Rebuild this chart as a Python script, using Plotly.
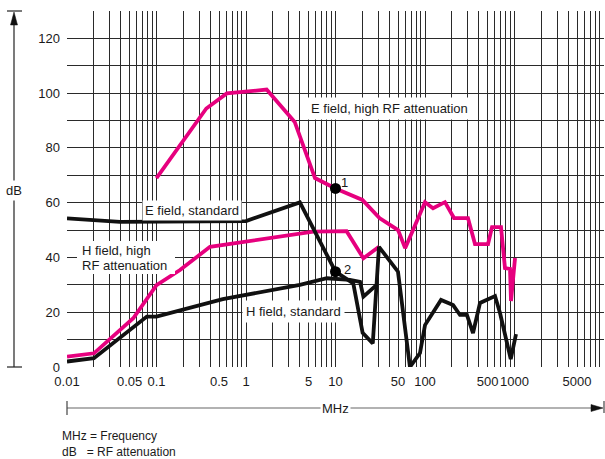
import plotly.graph_objects as go

# ---- data (frequency in MHz, attenuation in dB) ----
e_high_f = [0.1, 0.36, 0.61, 1.7, 3.5, 5.9, 10, 20, 31, 50, 60, 82, 100, 123, 167, 211, 302, 362, 506, 561, 707, 783, 891, 914, 1014]
e_high_db = [69, 94.4, 99.9, 101.3, 89.5, 69, 65.2, 61, 54.4, 50, 43.4, 53.6, 60.2, 58, 60.2, 54.4, 54.4, 44.9, 44.9, 51.1, 51.1, 36.1, 35.8, 24.1, 39.8]

e_std_f = [0.01, 0.039, 1.0, 4.0, 10, 15.8, 20.1, 26.1, 30.6, 49.9, 67.9, 87.9, 100, 151, 206, 246, 294, 344, 412, 606, 689, 908, 1040]
e_std_db = [54.3, 53.0, 53.3, 60.1, 34.8, 30.5, 12.5, 8.6, 43.9, 34.8, 0, 5.1, 15.3, 24.5, 22.6, 19.0, 19.0, 12.4, 23.4, 25.9, 19.7, 2.9, 12.0]

h_high_f = [0.01, 0.02, 0.055, 0.1, 0.183, 0.396, 5.65, 13.3, 20.5, 30.6]
h_high_db = [3.8, 5.0, 17.8, 29.9, 35.4, 43.9, 49.4, 49.6, 39.7, 43.9]

h_std_f = [0.01, 0.02, 0.078, 0.1, 0.55, 4.0, 8.0, 14.5, 18.8, 20.5, 28.8]
h_std_db = [2.0, 3.2, 18.4, 18.4, 24.8, 30, 32.4, 31.8, 31.1, 25.7, 30]

# reference points at 10 MHz
ref_f = [10, 10]
ref_db = [65.2, 34.8]
ref_labels = ["1", "2"]

x_labels = {0.01: "0.01", 0.05: "0.05", 0.1: "0.1", 0.5: "0.5", 1: "1", 5: "5",
            10: "10", 50: "50", 100: "100", 500: "500", 1000: "1000", 5000: "5000"}
y_labels = {0: "0", 20: "20", 40: "40", 60: "60", 80: "80", 100: "100", 120: "120"}

MAGENTA = "#E6007E"
INK = "#111111"
FONT = "Liberation Sans, Arial, sans-serif"

W, H = 605, 459
ML, MR, MT, MB = 67, 1, 11, 92
PW, PH = W - ML - MR, H - MT - MB


def px(x):
    return (x - ML) / PW


def py(y):
    return (H - MB - y) / PH


# grid positions: 1..9 x each decade from 0.01 to 10000
grid_x = []
for k in range(-2, 4):
    for m in range(1, 10):
        grid_x.append(round(m * 10 ** k, 6))
grid_x.append(10000)
x_text = [x_labels.get(v, "") for v in grid_x]

grid_y = list(range(0, 131, 10))
y_text = [y_labels.get(v, "") for v in grid_y]

fig = go.Figure()

for f, d, c in [(h_high_f, h_high_db, MAGENTA), (e_high_f, e_high_db, MAGENTA),
                (e_std_f, e_std_db, INK), (h_std_f, h_std_db, INK)]:
    fig.add_trace(go.Scatter(x=f, y=d, mode="lines",
                             line=dict(color=c, width=3.8), showlegend=False,
                             hoverinfo="skip"))

fig.add_trace(go.Scatter(x=ref_f, y=ref_db, mode="markers",
                         marker=dict(color="black", size=11), showlegend=False))

fig.update_xaxes(type="log", range=[-2, 4], tickvals=grid_x, ticktext=x_text,
                 tickangle=0, showgrid=True, gridcolor="#2a2a2a", gridwidth=1,
                 zeroline=False, showline=False, ticks="", ticklabelstandoff=5,
                 tickfont=dict(family=FONT, size=13, color="#1a1a1a"))
fig.update_yaxes(range=[0, 130], tickvals=grid_y, ticktext=y_text,
                 showgrid=True, gridcolor="#2a2a2a", gridwidth=1, zeroline=False,
                 showline=False, ticks="", ticklabelstandoff=6,
                 tickfont=dict(family=FONT, size=13, color="#1a1a1a"))

ann = []


def label(text, x, y, xanchor="left", size=13, bg="white", pad=2):
    ann.append(dict(text=text, x=px(x), y=py(y), xref="paper", yref="paper",
                    xanchor=xanchor, yanchor="middle", showarrow=False, align="left",
                    font=dict(family=FONT, size=size, color="#1a1a1a"),
                    bgcolor=bg, borderpad=pad))


CLEAR = "rgba(0,0,0,0)"
label("E field, high RF attenuation", 307, 108, pad=3)
label("E field, standard", 142, 210, pad=2)
label("H field, high", 81, 250, bg=CLEAR, pad=0)
label("RF attenuation", 81, 265, bg=CLEAR, pad=0)
label("H field, standard", 242, 311, pad=3)
label("1", 340, 183, bg=CLEAR, pad=0)
label("2", 343, 269, bg=CLEAR, pad=0)
label("dB", 14, 190, xanchor="center", pad=2)
label("MHz", 335, 408, xanchor="center", pad=1)
label("MHz = Frequency", 61, 436, bg=CLEAR, size=12, pad=0)
label("dB   = RF attenuation", 61, 452, bg=CLEAR, size=12, pad=0)

shapes = []


def seg(x0, y0, x1, y1, color="#222", w=1.2):
    shapes.append(dict(type="line", xref="paper", yref="paper",
                       x0=px(x0), y0=py(y0), x1=px(x1), y1=py(y1),
                       line=dict(color=color, width=w)))


def tri(pts, color="#111"):
    path = "M " + " L ".join(f"{px(a)},{py(b)}" for a, b in pts) + " Z"
    shapes.append(dict(type="path", xref="paper", yref="paper", path=path,
                       fillcolor=color, line=dict(color=color, width=0.5)))


# white panel behind the two-line "H field, high" label
shapes.append(dict(type="rect", xref="paper", yref="paper", layer="above",
                   x0=px(77), x1=px(175), y0=py(274), y1=py(241),
                   fillcolor="white", line=dict(width=0)))

# vertical dB axis arrow
seg(14, 367, 14, 22)
seg(7, 11, 22, 11)
seg(7, 367, 22, 367)
tri([(14, 12), (10.5, 25), (17.5, 25)])

# horizontal MHz axis arrow
seg(67, 408, 593, 408, color="#666")
seg(67, 401, 67, 415, color="#444")
seg(604, 401, 604, 413, color="#444")
tri([(603, 408), (591, 404.5), (591, 411.5)])

fig.update_layout(width=W, height=H, margin=dict(l=ML, r=MR, t=MT, b=MB),
                  plot_bgcolor="white", paper_bgcolor="white",
                  annotations=ann, shapes=shapes,
                  font=dict(family=FONT))

fig.write_html("out.html")
